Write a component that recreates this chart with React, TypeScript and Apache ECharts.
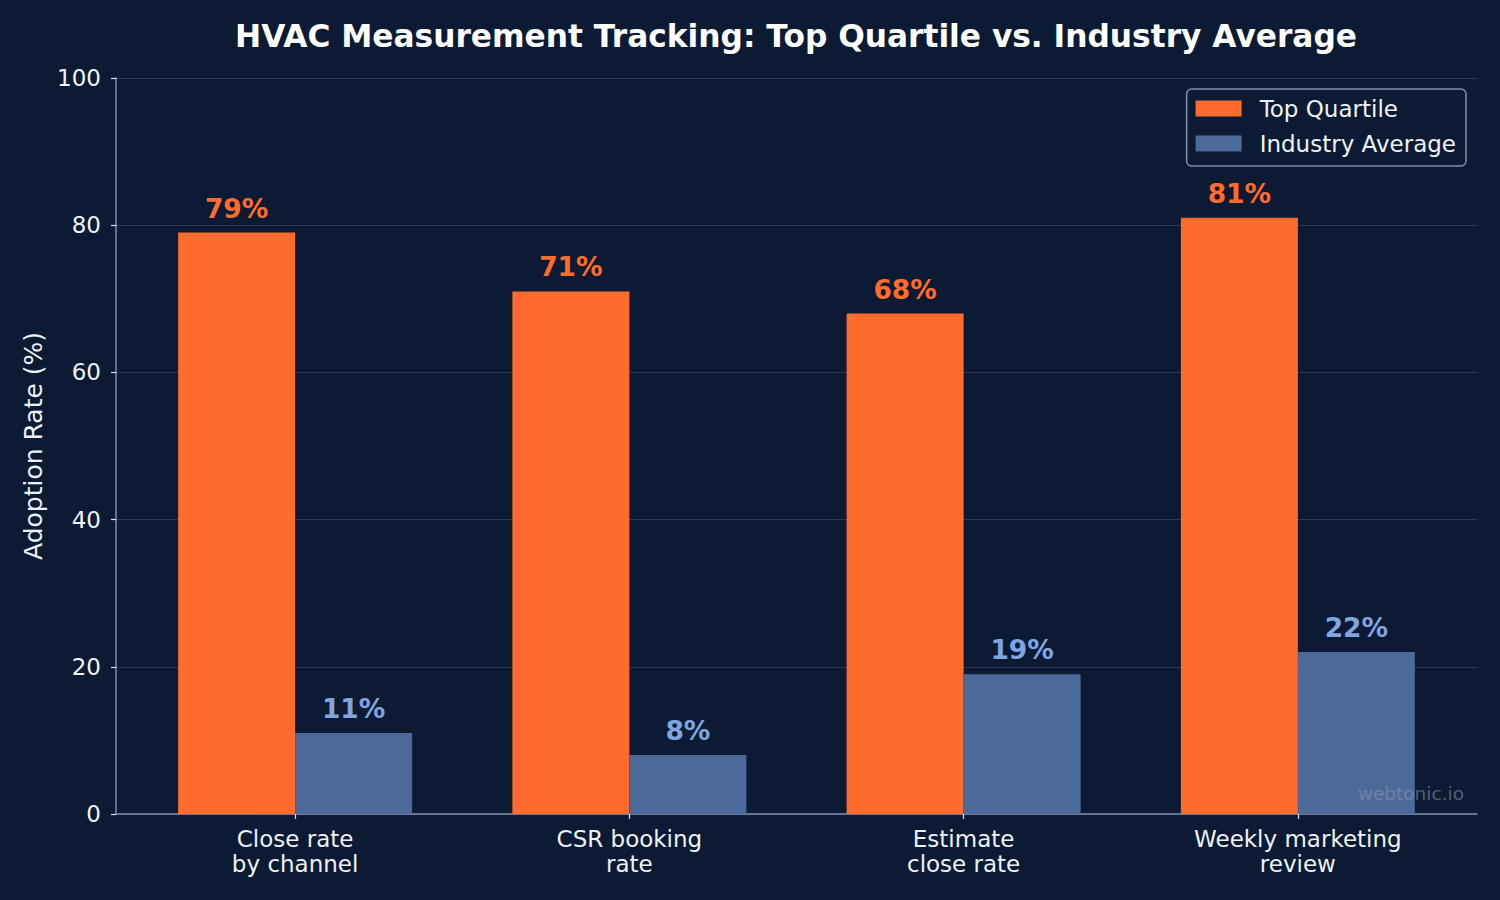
import React, { useEffect, useRef } from "react";
import * as echarts from "echarts";

const categories = [
  "Close rate\nby channel",
  "CSR booking\nrate",
  "Estimate\nclose rate",
  "Weekly marketing\nreview",
];
const topQuartile = [79, 71, 68, 81];
const industryAverage = [11, 8, 19, 22];
const yTicks = [0, 20, 40, 60, 80, 100];

const BG = "#0c1b33";
const ORANGE = "#ff6b2d";
const BLUE = "#4b6a99";
const BLUE_LABEL = "#7fa6e0";
const SPINE = "#7f8fa6";
const TICK = "#dde2ea";
const GRID = "#2d3c55";
const TEXT = "#eef1f6";
const FONT = "DejaVu Sans";

export default function App() {
  const ref = useRef<HTMLDivElement>(null);

  useEffect(() => {
    if (!ref.current) return;
    const chart = echarts.init(ref.current, undefined, { renderer: "svg" });
    chart.setOption({
      animation: false,
      backgroundColor: BG,
      textStyle: { fontFamily: FONT },
      title: {
        text: "HVAC Measurement Tracking: Top Quartile vs. Industry Average",
        left: 791,
        textAlign: "center",
        top: 15,
        textStyle: { color: "#ffffff", fontSize: 31.25, fontWeight: "bold", fontFamily: FONT },
      },
      legend: {
        orient: "vertical",
        right: 34,
        top: 89,
        padding: [8, 10, 11, 9],
        itemWidth: 46,
        itemHeight: 16,
        itemGap: 12,
        borderColor: SPINE,
        borderWidth: 1.5,
        borderRadius: 5,
        backgroundColor: BG,
        icon: "rect",
        textStyle: { color: TEXT, fontSize: 23, fontFamily: FONT, padding: [0, 0, 0, 13] },
        data: ["Top Quartile", "Industry Average"],
      },
      grid: [
        { left: 116, right: 23, top: 78, bottom: 86 },
        { left: 128, right: 35, top: 78, bottom: 86 },
      ],
      xAxis: [
        {
          gridIndex: 0,
          type: "category",
          data: categories,
          axisLine: { show: true, lineStyle: { color: SPINE, width: 1.5 } },
          axisTick: { show: false },
          axisLabel: { show: false },
          splitLine: { show: false },
        },
        {
          gridIndex: 1,
          type: "category",
          data: categories,
          axisLine: { show: false },
          axisTick: { show: true, alignWithLabel: true, length: 5, lineStyle: { color: TICK, width: 1.2 } },
          axisLabel: {
            color: TEXT,
            fontSize: 23,
            fontFamily: FONT,
            margin: 12,
            lineHeight: 25.5,
            align: "center",
          },
        },
      ],
      yAxis: [
        {
          gridIndex: 0,
          type: "value",
          min: 0,
          max: 100,
          interval: 20,
          name: "Adoption Rate (%)",
          nameLocation: "middle",
          nameGap: 67,
          nameTextStyle: { color: TEXT, fontSize: 25, fontFamily: FONT },
          axisLine: { show: true, lineStyle: { color: SPINE, width: 1.5 } },
          axisTick: { show: true, length: 5, lineStyle: { color: TICK, width: 1.2 } },
          axisLabel: {
            color: TEXT,
            fontSize: 23,
            fontFamily: FONT,
            margin: 15,
            formatter: (v: number) => (yTicks.includes(v) ? String(v) : ""),
          },
          splitLine: { show: true, lineStyle: { color: GRID, width: 1.2 } },
        },
        {
          gridIndex: 1,
          type: "value",
          min: 0,
          max: 100,
          interval: 20,
          show: false,
          splitLine: { show: false },
        },
      ],
      series: [
        {
          name: "Top Quartile",
          type: "bar",
          xAxisIndex: 1,
          yAxisIndex: 1,
          data: topQuartile,
          barWidth: 117,
          barGap: "0%",
          itemStyle: { color: ORANGE },
          label: {
            show: true,
            position: "top",
            distance: 11,
            formatter: "{c}%",
            color: ORANGE,
            fontSize: 26.5,
            fontWeight: "bold",
            fontFamily: FONT,
          },
        },
        {
          name: "Industry Average",
          type: "bar",
          xAxisIndex: 1,
          yAxisIndex: 1,
          data: industryAverage,
          barWidth: 117,
          barGap: "0%",
          itemStyle: { color: BLUE },
          label: {
            show: true,
            position: "top",
            distance: 11,
            formatter: "{c}%",
            color: BLUE_LABEL,
            fontSize: 26.5,
            fontWeight: "bold",
            fontFamily: FONT,
          },
        },
      ],
      graphic: [
        {
          type: "text",
          right: 36,
          top: 784,
          z: 100,
          style: {
            text: "webtonic.io",
            fill: "rgba(140,155,175,0.55)",
            fontSize: 18.5,
            fontFamily: FONT,
          },
        },
      ],
    });
    return () => chart.dispose();
  }, []);

  return (
    <div
      ref={ref}
      style={{ position: "fixed", left: 0, top: 0, width: 1500, height: 900 }}
    />
  );
}
